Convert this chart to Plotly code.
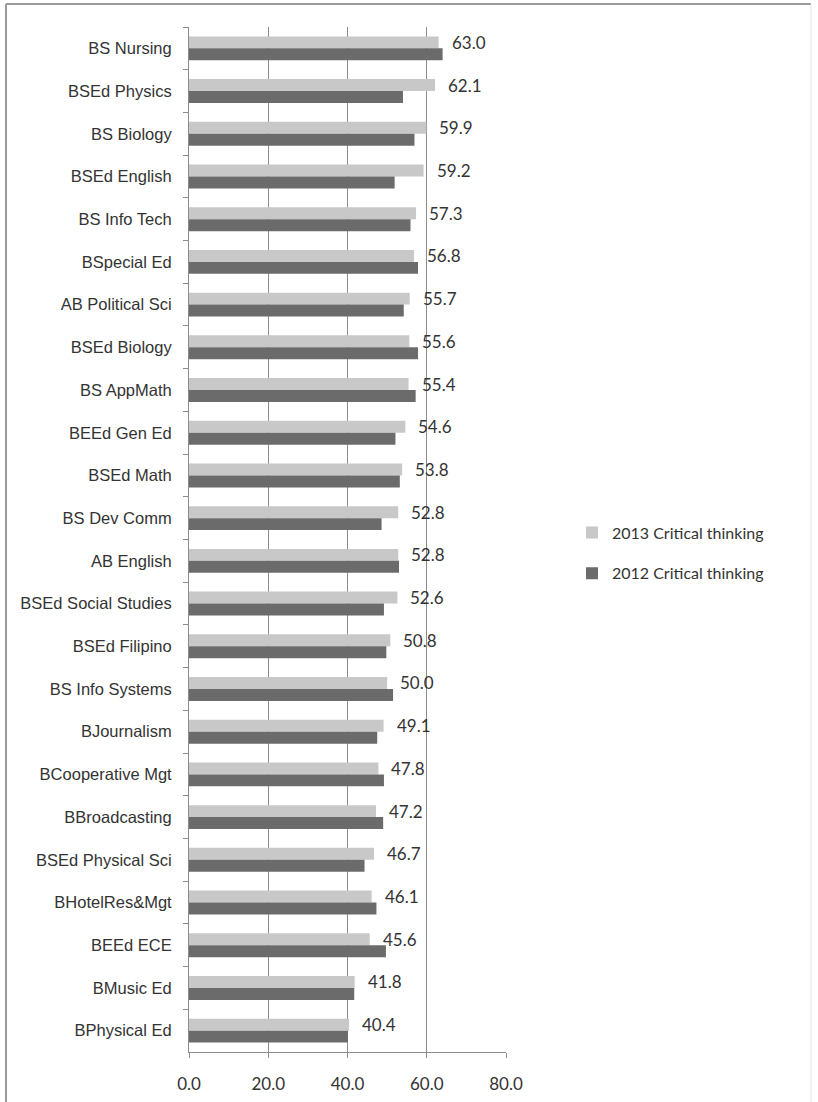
import plotly.graph_objects as go

categories = ["BS Nursing", "BSEd Physics", "BS Biology", "BSEd English", "BS Info Tech",
              "BSpecial Ed", "AB Political Sci", "BSEd Biology", "BS AppMath", "BEEd Gen Ed",
              "BSEd Math", "BS Dev Comm", "AB English", "BSEd Social Studies", "BSEd Filipino",
              "BS Info Systems", "BJournalism", "BCooperative Mgt", "BBroadcasting",
              "BSEd Physical Sci", "BHotelRes&Mgt", "BEEd ECE", "BMusic Ed", "BPhysical Ed"]
ct_2013 = [63.0, 62.1, 59.9, 59.2, 57.3, 56.8, 55.7, 55.6, 55.4, 54.6, 53.8, 52.8, 52.8, 52.6,
           50.8, 50.0, 49.1, 47.8, 47.2, 46.7, 46.1, 45.6, 41.8, 40.4]
ct_2012 = [64.0, 54.0, 56.9, 51.9, 55.9, 57.8, 54.2, 57.8, 57.2, 52.1, 53.2, 48.6, 53.0, 49.2,
           49.8, 51.5, 47.5, 49.2, 49.0, 44.3, 47.3, 49.7, 41.7, 40.1]
x_ticks = [0, 20, 40, 60, 80]
x_tick_labels = ["0.0", "20.0", "40.0", "60.0", "80.0"]

LIGHT = "#c8c8c8"
DARK = "#6b6b6b"
TXT = "#333333"

fig = go.Figure()
fig.add_trace(go.Bar(y=categories, x=ct_2013, orientation="h", name="2013 Critical thinking",
                     marker=dict(color=LIGHT, line=dict(width=0)), legendgroup="a"))
fig.add_trace(go.Bar(y=categories, x=ct_2012, orientation="h", name="2012 Critical thinking",
                     marker=dict(color=DARK, line=dict(width=0)), legendgroup="b"))

annotations = []
for c, v in zip(categories, ct_2013):
    annotations.append(dict(x=v, y=c, xref="x", yref="y", text=f"{v:.1f}", showarrow=False,
                            xanchor="left", yanchor="middle", xshift=11, yshift=6,
                            font=dict(family="Lato", size=17, color=TXT)))

# plot area: x 189..506, y 27..1052 (px)
L, R, T, B = 189, 506, 27, 1052
W, H = R - L, B - T
def px(xp):
    return (xp - L) / W
def py(yp):
    return (B - yp) / H

shapes = [
    dict(type="line", xref="paper", yref="paper", x0=px(6), x1=px(811), y0=py(4), y1=py(4),
         line=dict(color="#9a9a9a", width=2)),
    dict(type="line", xref="paper", yref="paper", x0=px(6), x1=px(6), y0=py(4), y1=py(1102),
         line=dict(color="#9a9a9a", width=2)),
    dict(type="line", xref="paper", yref="paper", x0=px(811), x1=px(811), y0=py(4), y1=py(1102),
         line=dict(color="#e4e4e4", width=1)),
]

fig.update_layout(
    width=818, height=1102,
    margin=dict(l=L, r=818 - R, t=T, b=1102 - B, autoexpand=False),
    paper_bgcolor="white", plot_bgcolor="white",
    barmode="group", bargap=0.44, bargroupgap=0,
    showlegend=True,
    legend=dict(x=px(572), y=py(553), xanchor="left", yanchor="middle",
                font=dict(family="Lato", size=16, color=TXT),
                tracegroupgap=17, traceorder="grouped", itemwidth=30),
    annotations=annotations,
    shapes=shapes,
    xaxis=dict(range=[0, 80], tickvals=x_ticks, ticktext=x_tick_labels,
               showgrid=True, gridcolor="#8c8c8c", gridwidth=1, zeroline=False,
               showline=True, linecolor="#8c8c8c", linewidth=1,
               ticks="outside", ticklen=5, tickcolor="#8c8c8c",
               ticklabelstandoff=12,
               tickfont=dict(family="Lato", size=17, color=TXT)),
    yaxis=dict(autorange="reversed", type="category", showgrid=False, zeroline=False,
               showline=True, linecolor="#8c8c8c", linewidth=1,
               ticks="outside", ticklen=5, tickcolor="#8c8c8c", tickson="boundaries",
               ticklabelstandoff=13,
               tickfont=dict(family="Liberation Sans", size=16.5, color=TXT)),
)

fig.write_html("out.html", config={"displayModeBar": False},
               post_script="document.body.style.margin='0';document.body.style.overflow='hidden';")
